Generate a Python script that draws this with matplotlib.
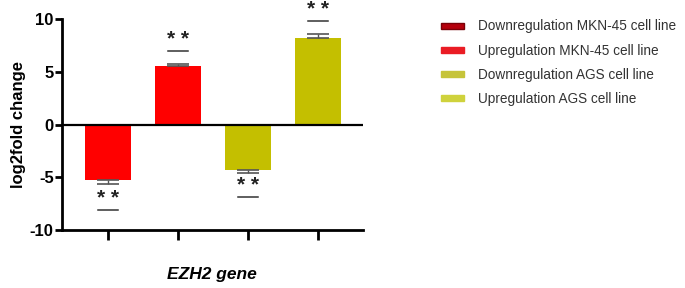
import matplotlib
matplotlib.use("Agg")
import matplotlib.pyplot as plt
from matplotlib.patches import Patch

plt.rcParams['font.family'] = ['Liberation Sans', 'DejaVu Sans']

# Data
labels = ["Downregulation MKN-45 cell line", "Upregulation MKN-45 cell line",
          "Downregulation AGS cell line", "Upregulation AGS cell line"]
values = [-5.3, 5.5, -4.3, 8.2]
errors = [0.3, 0.25, 0.25, 0.4]
sig_lines = [-8.1, 6.95, -6.9, 9.8]
sig_text = ["**", "**", "**", "**"]
y_ticks = [-10, -5, 0, 5, 10]

BAR_COLORS = ["#ff0000", "#ff0000", "#c4bf00", "#c4bf00"]
LEGEND_COLORS = ["#b5000c", "#ea1c24", "#c6c43a", "#cfd23c"]
LEGEND_EDGES = ["#7a0008", "#ea1c24", "#c6c43a", "#cfd23c"]

fig = plt.figure(figsize=(6.85, 2.88), dpi=100)
ax = fig.add_axes([0.0905, 0.2014, 0.4395, 0.7326])

x = list(range(len(values)))
ax.bar(x, values, width=0.65, color=BAR_COLORS, edgecolor="none", zorder=2)

# one-sided error bars (outward side only)
for xi, v, e in zip(x, values, errors):
    yerr = [[0], [e]] if v > 0 else [[e], [0]]
    ax.errorbar(xi, v, yerr=yerr, fmt="none", ecolor="#555555",
                elinewidth=1, capsize=8, capthick=1.2, zorder=3)

# significance marks
for xi, yl, t in zip(x, sig_lines, sig_text):
    ax.plot([xi - 0.14, xi + 0.14], [yl, yl], color="#333333", lw=1.1, clip_on=False)
    ax.text(xi, yl + 0.2, " ".join(t), ha="center", va="bottom", fontsize=15,
            fontweight="bold", color="#222222", clip_on=False)

ax.axhline(0, color="black", lw=1.6, zorder=4)

ax.set_xlim(-0.66, 3.64)
ax.set_ylim(-10, 10)
ax.set_yticks(y_ticks)
ax.set_yticklabels([str(t) for t in y_ticks], fontweight="bold", fontsize=12)
ax.set_xticks(x)
ax.set_xticklabels([])

for s in ["top", "right"]:
    ax.spines[s].set_visible(False)
ax.spines["left"].set_linewidth(2)
ax.spines["bottom"].set_linewidth(2)
ax.tick_params(axis="y", length=5, width=2, pad=1)
ax.tick_params(axis="x", length=7, width=2, pad=2)

ax.set_ylabel("log2fold change", fontweight="bold", fontsize=12, labelpad=3)
fig.text(0.31, 0.02, "EZH2 gene", ha="center", va="bottom", fontsize=12.5,
         fontweight="bold", fontstyle="italic")

handles = [Patch(facecolor=c, edgecolor=ec, linewidth=1) for c, ec in zip(LEGEND_COLORS, LEGEND_EDGES)]
fig.legend(handles, labels, loc="upper left", bbox_to_anchor=(0.626, 0.975),
           frameon=False, fontsize=9.8, handlelength=1.7, handleheight=0.3,
           handletextpad=1.0, labelspacing=0.75, labelcolor="#333333")

fig.savefig("out.png", dpi=100)
